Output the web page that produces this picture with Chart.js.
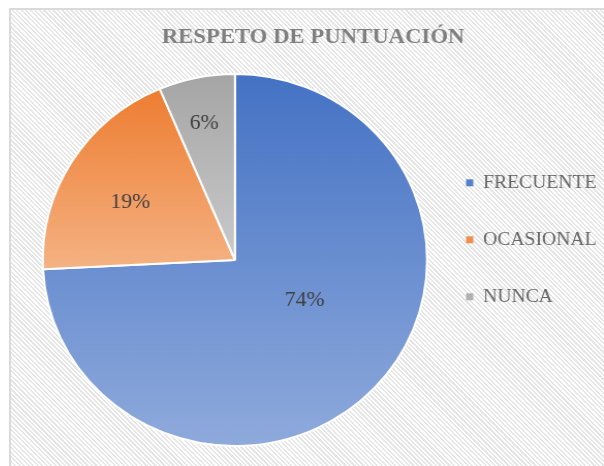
<!DOCTYPE html>
<html>
<head>
<meta charset="utf-8">
<script src="https://cdn.jsdelivr.net/npm/chart.js@4.4.1/dist/chart.umd.min.js"></script>
<style>
  html, body { margin: 0; padding: 0; width: 604px; height: 466px; overflow: hidden; background: #ffffff; }
  #frame {
    position: absolute; left: 9px; top: 8px; width: 640px; height: 500px;
    border-left: 2px solid #dadada; border-top: 2px solid #dadada;
    background: repeating-linear-gradient(45deg, #ffffff 0px, #ffffff 1.6px, #e6e6e6 1.6px, #e6e6e6 3.2px);
  }
  #chart { position: absolute; left: 11px; top: 10px; transform: scaleX(1.033); transform-origin: 0 0; }
</style>
</head>
<body>
<div id="frame"></div>
<canvas id="chart" width="585" height="456"></canvas>
<script>
// ---- data ----
const categories = ['FRECUENTE', 'OCASIONAL', 'NUNCA'];
const percentValues = [74.2, 19.4, 6.4];
const chartTitle = 'RESPETO DE PUNTUACIÓN';

// ---- styles ----
const SERIF = "'Liberation Serif', 'Times New Roman', serif";
const GRAD_TOP = ['#4472C4', '#ED7D31', '#A5A5A5'];
const GRAD_BOTTOM = ['#8FAADC', '#F5B283', '#CACACA'];
const LEGEND_COLORS = ['#5580CC', '#EF8F4E', '#B0B0B0'];
const PIE_RADIUS = 186;
const LABEL_ANCHORS = [{ r: 0.423, a: -12.4 }, { r: 0.627, a: -2.4 }, { r: 0.75, a: -0.8 }];

function sliceGradient(c) {
  const i = c.dataIndex;
  const chart = c.chart;
  const area = chart.chartArea;
  if (!area) return GRAD_TOP[i];
  const cx = (area.left + area.right) / 2, cy = (area.top + area.bottom) / 2;
  const R = PIE_RADIUS;
  const total = percentValues.reduce((s, v) => s + v, 0);
  let acc = 0;
  for (let j = 0; j < i; j++) acc += percentValues[j];
  const s = -Math.PI / 2 + 2 * Math.PI * acc / total;
  const e = s + 2 * Math.PI * percentValues[i] / total;
  const ys = [cy, cy + R * Math.sin(s), cy + R * Math.sin(e)];
  [-Math.PI / 2, Math.PI / 2, 3 * Math.PI / 2].forEach(k => { if (k > s && k < e) ys.push(cy + R * Math.sin(k)); });
  const g = chart.ctx.createLinearGradient(0, Math.min(...ys), 0, Math.max(...ys));
  g.addColorStop(0, GRAD_TOP[i]);
  g.addColorStop(1, GRAD_BOTTOM[i]);
  return g;
}

const pieLabels = {
  id: 'pieLabels',
  beforeDraw(chart) {
    // let legend text overflow its (narrowed) box instead of being clipped
    const lg = chart.legend;
    if (lg && !lg._noClip) {
      lg._noClip = true;
      lg.draw = function () { if (this.options.display) this._draw(); };
    }
  },
  afterDatasetsDraw(chart) {
    const ctx = chart.ctx;
    const meta = chart.getDatasetMeta(0);
    const total = percentValues.reduce((s, v) => s + v, 0);
    ctx.save();
    ctx.font = '21px ' + SERIF;
    ctx.fillStyle = '#404040';
    ctx.textAlign = 'center';
    ctx.textBaseline = 'middle';
    meta.data.forEach((arc, i) => {
      const p = arc.getProps(['x', 'y', 'startAngle', 'endAngle', 'outerRadius'], true);
      const anc = LABEL_ANCHORS[i];
      const ang = (p.startAngle + p.endAngle) / 2 + anc.a * Math.PI / 180;
      const rr = p.outerRadius * anc.r;
      ctx.fillText(Math.round(percentValues[i] / total * 100) + '%', p.x + Math.cos(ang) * rr, p.y + Math.sin(ang) * rr);
    });
    ctx.restore();
  }
};

new Chart(document.getElementById('chart'), {
  type: 'pie',
  data: {
    labels: categories,
    datasets: [{
      data: percentValues,
      backgroundColor: sliceGradient,
      borderColor: '#ffffff',
      borderWidth: 2,
      radius: PIE_RADIUS
    }]
  },
  options: {
    responsive: false,
    devicePixelRatio: 1,
    animation: false,
    events: [],
    layout: { padding: { top: 0, left: 31.1, right: 31.3, bottom: 20 } },
    plugins: {
      tooltip: { enabled: false },
      title: {
        display: true,
        text: chartTitle,
        color: '#7f7f7f',
        font: { family: SERIF, size: 22, weight: 'bold', lineHeight: 1.2 },
        padding: { top: 14, bottom: 23.6 }
      },
      legend: {
        display: true,
        position: 'right',
        align: 'start',
        fullSize: false,
        maxWidth: 151.2,
        title: { display: true, text: ' ', font: { size: 10, lineHeight: 1 }, padding: { top: 51.3, bottom: 0 } },
        labels: {
          color: '#595959',
          font: { family: SERIF, size: 19 },
          boxWidth: 7,
          boxHeight: 7,
          padding: 38,
          generateLabels(chart) {
            return categories.map((t, i) => ({
              text: t, fillStyle: LEGEND_COLORS[i], strokeStyle: LEGEND_COLORS[i], lineWidth: 0, hidden: false, index: i
            }));
          }
        }
      }
    }
  },
  plugins: [pieLabels]
});
</script>
</body>
</html>
